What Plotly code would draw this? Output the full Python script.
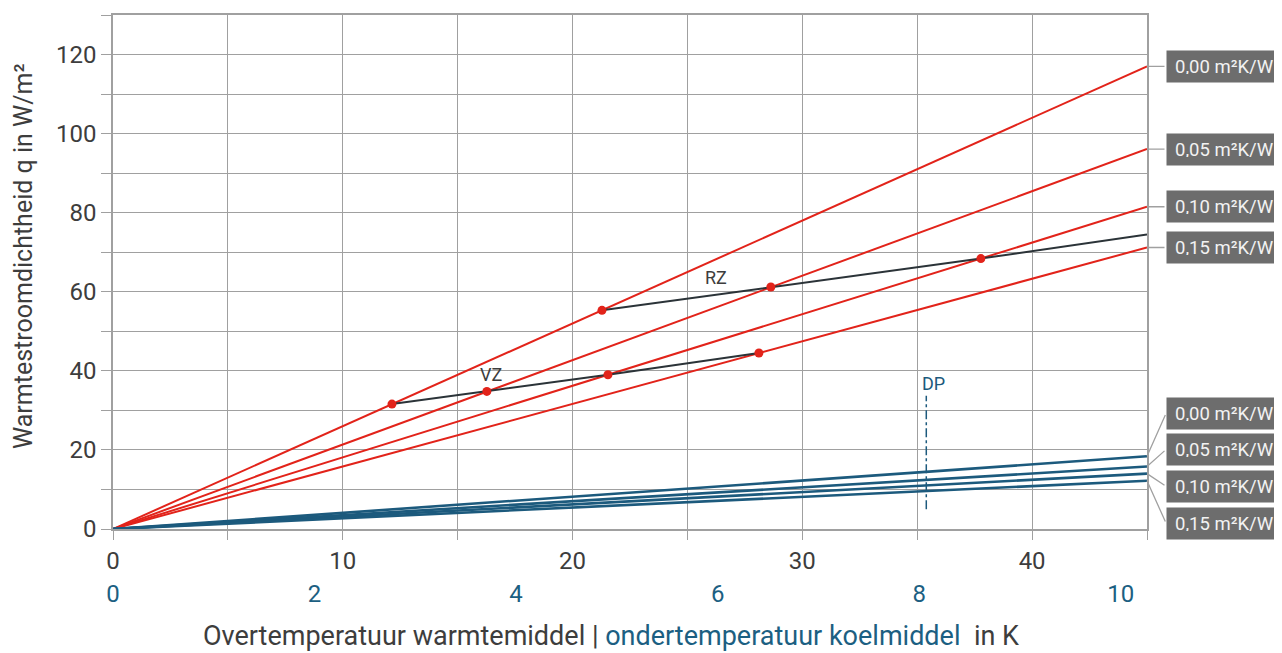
import plotly.graph_objects as go

# thermal resistance labels
resist = ['0,00 m²K/W', '0,05 m²K/W', '0,10 m²K/W', '0,15 m²K/W']

# heating (red), primary x axis 0..45 K
heat_x = [0, 45]
heat_end = [117.0, 96.1, 81.5, 71.2]

# cooling (blue), secondary x axis 0..10.26 K
cool_x = [0, 10.26]
cool_end = [18.4, 15.8, 14.0, 12.2]

# RZ / VZ operating lines
rz_x = [21.28, 28.63, 37.77, 45]
rz_y = [55.3, 61.2, 68.4, 74.5]
rz_pts = 3
vz_x = [12.14, 16.27, 21.54, 28.11]
vz_y = [31.6, 34.8, 39.0, 44.5]

# dew point line (secondary axis)
dp_x = 8.07
dp_y = [5.0, 33.7]

# label box positions (y values) for the cooling labels
cool_box_y = [29.2, 20.1, 10.8, 1.5]

RED = '#e2231a'
BLUE = '#1c5a7d'
DARK = '#2b3338'
GRID = '#a0a0a0'
TXT = '#3d3d3d'
FONT = 'Roboto'

fig = go.Figure()

for i, r in enumerate(resist):
    fig.add_trace(go.Scatter(x=heat_x, y=[0, heat_end[i]], mode='lines',
                             line=dict(color=RED, width=2), name=r, showlegend=False))

for i, r in enumerate(resist):
    fig.add_trace(go.Scatter(x=cool_x, y=[0, cool_end[i]], mode='lines', xaxis='x2',
                             line=dict(color=BLUE, width=2.6), name=r, showlegend=False))

fig.add_trace(go.Scatter(x=rz_x, y=rz_y, mode='lines', line=dict(color=DARK, width=2),
                         showlegend=False))
fig.add_trace(go.Scatter(x=vz_x, y=vz_y, mode='lines', line=dict(color=DARK, width=2),
                         showlegend=False))
fig.add_trace(go.Scatter(x=rz_x[:rz_pts] + vz_x, y=rz_y[:rz_pts] + vz_y, mode='markers',
                         marker=dict(color=RED, size=9), showlegend=False))

fig.add_trace(go.Scatter(x=[dp_x, dp_x], y=dp_y, mode='lines', xaxis='x2',
                         line=dict(color=BLUE, width=1.5, dash='dashdot'), showlegend=False))

ann = []
ann.append(dict(x=26.24, y=63.6, xref='x', yref='y', text='RZ', showarrow=False,
                font=dict(size=18, color=TXT, family=FONT)))
ann.append(dict(x=16.45, y=39.2, xref='x', yref='y', text='VZ', showarrow=False,
                font=dict(size=18, color=TXT, family=FONT)))
ann.append(dict(x=dp_x, y=36.8, xref='x2', yref='y', text='DP', showarrow=False,
                xanchor='left', xshift=-6,
                font=dict(size=18, color=BLUE, family=FONT)))

box_y = heat_end + cool_box_y
line_end = heat_end + cool_end
for i in range(8):
    ann.append(dict(x=1, xref='paper', y=box_y[i], yref='y', xshift=19,
                    xanchor='left', yanchor='middle', text=resist[i % 4], showarrow=False,
                    bgcolor='#6d6d6d', width=108, height=15, borderpad=8, align='left',
                    font=dict(size=18.5, color='#f2f2f2', family=FONT)))
    ann.append(dict(x=45, xref='x', y=line_end[i], yref='y', text='', showarrow=True,
                    arrowhead=0, arrowwidth=1.3, arrowcolor=GRID,
                    ax=19, axref='pixel', ay=box_y[i], ayref='y'))

# axis titles, placed relative to the plot area (left 113, bottom 529, 1034 x 516 px)
ann.append(dict(x=(611 - 113) / 1034, xref='paper', y=-(636 - 529) / 516, yref='paper',
                xanchor='center', yanchor='middle', showarrow=False,
                text="Overtemperatuur warmtemiddel | <span style='color:#1c5f82'>ondertemperatuur koelmiddel</span>  in K",
                font=dict(size=27, color=TXT, family=FONT)))
ann.append(dict(x=-(113 - 23) / 1034, xref='paper', y=(529 - 255) / 516, yref='paper',
                xanchor='center', yanchor='middle', showarrow=False, textangle=-90,
                text='Warmtestroomdichtheid q in W/m²',
                font=dict(size=25, color=TXT, family=FONT)))
fig.update_layout(annotations=ann)

# page body adds an 8 px offset, so the figure is 8 px smaller on the left/top
fig.update_layout(
    width=1274, height=645,
    margin=dict(l=105, r=135, t=5, b=124),
    plot_bgcolor='white', paper_bgcolor='white',
    font=dict(family=FONT, color=TXT, size=24),
    xaxis=dict(range=[0, 45], tickvals=[0, 10, 20, 30, 40], showgrid=True, gridcolor=GRID,
               gridwidth=1, showline=True, linecolor=GRID, linewidth=1.5, mirror=True,
               ticks='outside', ticklen=9, tickcolor=GRID, zeroline=False,
               minor=dict(dtick=5, showgrid=True, gridcolor=GRID, ticks='outside',
                          ticklen=9, tickcolor=GRID),
               tickfont=dict(size=24, color=TXT)),
    xaxis2=dict(range=[0, 10.26], overlaying='x', side='bottom', anchor='y',
                tickvals=[0, 2, 4, 6, 8, 10], showgrid=False, showline=False, ticks='',
                zeroline=False, ticklabelstandoff=48,
                tickfont=dict(size=24, color='#1c5f82')),
    yaxis=dict(range=[0, 130], tickvals=[0, 20, 40, 60, 80, 100, 120], showgrid=True,
               gridcolor=GRID, gridwidth=1, showline=True, linecolor=GRID, linewidth=1.5,
               mirror=True, ticks='outside', ticklen=10, tickcolor=GRID, zeroline=False,
               minor=dict(dtick=10, showgrid=True, gridcolor=GRID, ticks='outside',
                          ticklen=10, tickcolor=GRID),
               tickfont=dict(size=24, color=TXT)),
)

fig.write_html('out.html')
